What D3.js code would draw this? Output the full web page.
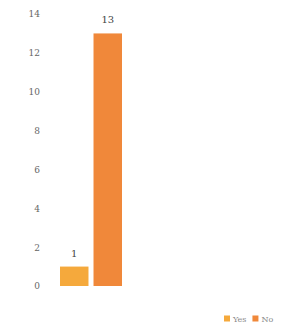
<!DOCTYPE html>
<html>
<head>
<meta charset="utf-8">
<script src="https://cdn.jsdelivr.net/npm/d3@7"></script>
<style>
  body { margin: 0; background: #fff; }
  text { font-family: "DejaVu Serif", serif; }
</style>
</head>
<body>
<svg id="chart"></svg>
<script>
const series = ['Yes', 'No']
const values = [1, 13]
const colors = ['#f5a93c', '#f0883a']
const yTicks = [0, 2, 4, 6, 8, 10, 12, 14]

const width = 283, height = 330
const svg = d3.select('#chart').attr('width', width).attr('height', height)

let x = d3.scaleBand()
  .domain(series)
  .range([60, 122])
  .paddingInner(0.15)

let y = d3.scaleLinear()
  .domain([0, 14])
  .range([286, 14])

// y axis labels, no line
svg.append('g')
  .attr('transform', 'translate(40,0)')
  .call(d3.axisLeft(y).tickValues(yTicks).tickSize(0).tickPadding(0))
  .call(g => g.select('.domain').remove())
  .selectAll('text')
    .attr('fill', '#666')
    .style('font-size', '9px')

svg.selectAll('rect.bar')
  .data(values)
  .enter().append('rect')
    .attr('class', 'bar')
    .attr('x', (d, i) => x(series[i]))
    .attr('y', d => y(d))
    .attr('width', x.bandwidth())
    .attr('height', d => y(0) - y(d))
    .attr('fill', (d, i) => colors[i])

svg.selectAll('text.val')
  .data(values)
  .enter().append('text')
    .attr('class', 'val')
    .attr('x', (d, i) => x(series[i]) + x.bandwidth() / 2)
    .attr('y', d => y(d) - 10)
    .attr('text-anchor', 'middle')
    .attr('fill', '#444')
    .style('font-size', '10px')
    .text(d => d)

// legend
let legend = svg.append('g').attr('transform', 'translate(224,319)')
let lx = 0
series.forEach((s, i) => {
  legend.append('rect')
    .attr('x', lx).attr('y', -3.5)
    .attr('width', 6).attr('height', 6)
    .attr('fill', colors[i])
  let t = legend.append('text')
    .attr('x', lx + 9).attr('y', 3)
    .attr('fill', '#888')
    .style('font-size', '8px')
    .text(s)
  lx += 9 + t.node().getComputedTextLength() + 6
})
</script>
</body>
</html>
